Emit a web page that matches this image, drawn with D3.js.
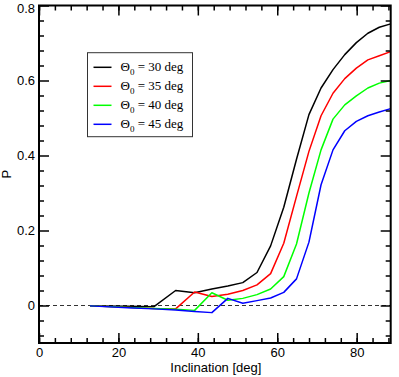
<!DOCTYPE html>
<html>
<head>
<meta charset="utf-8" />
<script src="https://d3js.org/d3.v7.min.js"></script>
<style>
  body { margin: 0; background: #fff; }
  .tick text { font-family: "Liberation Sans", Arial, sans-serif; font-size: 13px; fill: #000; }
</style>
</head>
<body>
<div id="chart"></div>
<script>
// inclination values (deg) where the curves have their vertices
var incl = [12.84, 22.33, 28.96, 34.41, 39.19, 43.53, 47.55, 51.32, 54.90, 58.33,
            61.64, 64.85, 67.98, 71.03, 74.04, 77.00, 79.92, 82.82, 85.70, 88.57];

var p30 = [-0.001, -0.002, -0.003, 0.040, 0.034, 0.044, 0.052, 0.061, 0.088, 0.159,
           0.262, 0.390, 0.509, 0.580, 0.629, 0.669, 0.701, 0.726, 0.742, 0.751];
var p35 = [-0.001, -0.005, -0.008, -0.009, 0.036, 0.024, 0.030, 0.040, 0.055, 0.085,
           0.166, 0.291, 0.411, 0.506, 0.566, 0.605, 0.633, 0.655, 0.666, 0.677];
var p40 = [-0.001, -0.005, -0.008, -0.010, -0.013, 0.034, 0.014, 0.019, 0.029, 0.044,
           0.077, 0.164, 0.300, 0.415, 0.497, 0.535, 0.559, 0.580, 0.593, 0.600];
var p45 = [-0.001, -0.006, -0.009, -0.012, -0.016, -0.019, 0.019, 0.006, 0.013, 0.020,
           0.035, 0.071, 0.169, 0.322, 0.415, 0.466, 0.491, 0.506, 0.516, 0.525];

var theta0 = ["30", "35", "40", "45"];
var colors = ["#000000", "#ff0000", "#00ff00", "#0000ff"];

var xMajor = [0, 20, 40, 60, 80];
var xMinor = d3.range(0, 89, 4);
var yMajor = [0, 0.2, 0.4, 0.6, 0.8];
var yMinor = [-0.08, -0.04, 0.04, 0.08, 0.12, 0.16, 0.24, 0.28, 0.32, 0.36,
              0.44, 0.48, 0.52, 0.56, 0.64, 0.68, 0.72, 0.76];

var series = [p30, p35, p40, p45];

var W = 399, H = 377;
var margin = {top: 5.5, right: 8.3, bottom: 34, left: 39};
var width = W - margin.left - margin.right,
    height = H - margin.top - margin.bottom;

var svg = d3.select("#chart").append("svg")
    .attr("width", W).attr("height", H)
  .append("g")
    .attr("transform", "translate(" + margin.left + "," + margin.top + ")");

var x = d3.scaleLinear().domain([0, 88.57]).range([0, width]);
var y = d3.scaleLinear().domain([-0.1, 0.8]).range([height, 0]);

// zero reference line
svg.append("line")
    .attr("x1", 0).attr("x2", width)
    .attr("y1", y(0)).attr("y2", y(0))
    .attr("stroke", "#333").attr("stroke-width", 1)
    .attr("stroke-dasharray", "4,3");

// curves
var line = d3.line()
    .x(function(d, i) { return x(incl[i]); })
    .y(function(d) { return y(d); });

series.forEach(function(s, k) {
  svg.append("path")
      .datum(s)
      .attr("d", line)
      .attr("fill", "none")
      .attr("stroke", colors[k])
      .attr("stroke-width", 1.5)
      .attr("stroke-linejoin", "round");
});

// axes, ticks point inward on all four sides
function styleAxis(g) {
  g.select(".domain").remove();
  g.selectAll(".tick line").attr("stroke", "#000").attr("stroke-width", 1.5);
}

svg.append("g").attr("transform", "translate(0," + height + ")")
    .call(d3.axisBottom(x).tickValues(xMajor).tickSizeInner(-10).tickSizeOuter(0)
      .tickPadding(5).tickFormat(d3.format("d")))
    .call(styleAxis);
svg.append("g").attr("transform", "translate(0," + height + ")")
    .call(d3.axisBottom(x).tickValues(xMinor).tickSize(-5).tickFormat(""))
    .call(styleAxis);
svg.append("g")
    .call(d3.axisTop(x).tickValues(xMajor).tickSize(-10).tickFormat(""))
    .call(styleAxis);
svg.append("g")
    .call(d3.axisTop(x).tickValues(xMinor).tickSize(-5).tickFormat(""))
    .call(styleAxis);

var yAxisG = svg.append("g")
    .call(d3.axisLeft(y).tickValues(yMajor).tickSizeInner(-10).tickSizeOuter(0)
      .tickPadding(4).tickFormat(function(d) { return d === 0 ? "0" : d3.format(".1f")(d); }))
    .call(styleAxis);
// the top label sits a little lower so it stays inside the picture
yAxisG.selectAll(".tick text").filter(function(d) { return d === 0.8; })
    .attr("dy", "0.5em");

svg.append("g")
    .call(d3.axisLeft(y).tickValues(yMinor).tickSize(-5).tickFormat(""))
    .call(styleAxis);
svg.append("g").attr("transform", "translate(" + width + ",0)")
    .call(d3.axisRight(y).tickValues(yMajor).tickSize(-10).tickFormat(""))
    .call(styleAxis);
svg.append("g").attr("transform", "translate(" + width + ",0)")
    .call(d3.axisRight(y).tickValues(yMinor).tickSize(-5).tickFormat(""))
    .call(styleAxis);

// frame
svg.append("rect")
    .attr("width", width).attr("height", height)
    .attr("fill", "none").attr("stroke", "#000").attr("stroke-width", 2);

// axis titles
svg.append("text")
    .attr("x", width / 2 + 1).attr("y", height + 29)
    .attr("text-anchor", "middle")
    .style("font-family", "'Liberation Sans', Arial, sans-serif")
    .style("font-size", "13px")
    .text("Inclination [deg]");

svg.append("text")
    .attr("transform", "translate(" + (-28) + "," + (height / 2) + ") rotate(-90)")
    .attr("text-anchor", "middle")
    .style("font-family", "'Liberation Sans', Arial, sans-serif")
    .style("font-size", "13px")
    .text("P");

// legend
var lg = svg.append("g").attr("transform", "translate(" + (87.5 - margin.left) + "," + (52.7 - margin.top) + ")");
lg.append("rect")
    .attr("width", 105).attr("height", 84)
    .attr("fill", "#fff").attr("stroke", "#333").attr("stroke-width", 1);

theta0.forEach(function(t, k) {
  var yy = 14.6 + k * 19;
  lg.append("line")
      .attr("x1", 6).attr("x2", 24).attr("y1", yy).attr("y2", yy)
      .attr("stroke", colors[k]).attr("stroke-width", 1.5);
  var tx = lg.append("text")
      .attr("x", 33).attr("y", yy + 4)
      .style("font-family", "'Liberation Serif', 'Times New Roman', serif")
      .style("font-size", "13px");
  tx.append("tspan").text("\u0398");
  tx.append("tspan").attr("dy", 4).style("font-size", "9px").text("0");
  tx.append("tspan").attr("dy", -4).text(" = " + t + " deg");
});
</script>
</body>
</html>
